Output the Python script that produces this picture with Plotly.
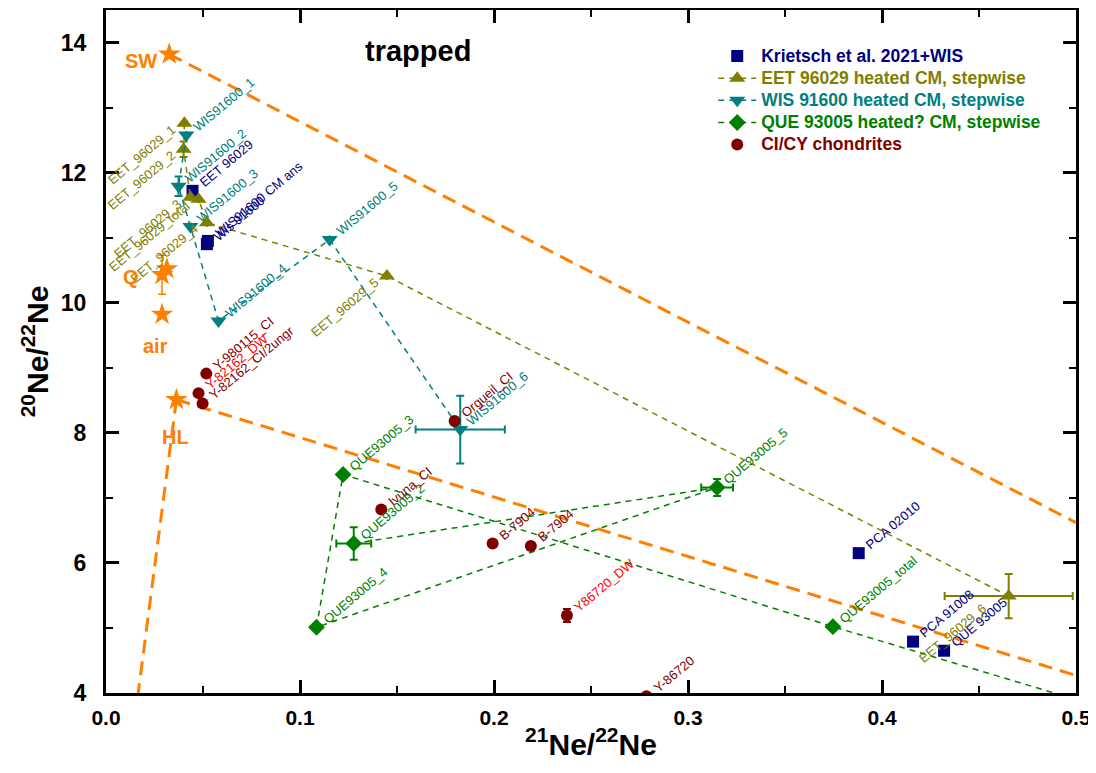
import plotly.graph_objects as go

# ---------------- data ----------------
# reference components (orange stars)
star_names = ["SW", "Q", "Q2", "air", "HL"]
star_x = [0.0326, 0.0289, 0.0314, 0.0289, 0.0363]
star_y = [13.82, 10.43, 10.52, 9.82, 8.51]
star_err_y = [0, 0.3, 0, 0, 0]

# orange mixing lines (end points)
sw_line_x = [0.0326, 0.5]
sw_line_y = [13.82, 6.62]
hl_line_x = [0.0363, 0.5]
hl_line_y = [8.51, 4.27]
hl_line2_x = [0.0363, 0.0166]
hl_line2_y = [8.51, 4.0]

# Krietsch et al. 2021 + WIS
kr_x = [0.0446, 0.052, 0.0525, 0.388, 0.416, 0.432]
kr_y = [11.72, 10.90, 10.95, 6.15, 4.79, 4.65]
kr_lab = ["EET 96029", "Wis 91600", "WIS91600 CM ans", "PCA 02010", "PCA 91008", "QUE 93005"]

# EET 96029 heated CM, stepwise
eet_x = [0.0404, 0.0400, 0.0435, 0.0477, 0.052, 0.1448, 0.4653]
eet_y = [12.76, 12.36, 11.62, 11.59, 11.23, 10.41, 5.49]
eet_ex = [0, 0, 0, 0, 0, 0, 0.033]
eet_ey = [0, 0.12, 0, 0, 0, 0, 0.34]
eet_lab = ["EET_96029_1", "EET_96029_2", "EET_96029_3", "EET_96029_total",
           "EET_96029_4", "EET_96029_5", "EET_96029_6"]

# WIS 91600 heated CM, stepwise
wis_x = [0.0414, 0.0374, 0.0435, 0.058, 0.1153, 0.1826]
wis_y = [12.58, 11.79, 11.17, 9.72, 10.97, 8.05]
wis_ex = [0, 0, 0, 0, 0, 0.023]
wis_ey = [0, 0.15, 0, 0, 0, 0.52]
wis_lab = ["WIS91600_1", "WIS91600_2", "WIS91600_3", "WIS91600_4", "WIS91600_5", "WIS91600_6"]

# QUE 93005 heated? CM, stepwise
que_x = [0.1277, 0.315, 0.1085, 0.1222, 0.3747, 0.52]
que_y = [6.30, 7.16, 5.01, 7.36, 5.02, 3.72]
que_ex = [0.009, 0.0082, 0, 0, 0, 0]
que_ey = [0.25, 0.13, 0, 0, 0, 0]
que_lab = ["QUE93005_2", "QUE93005_5", "QUE93005_4", "QUE93005_3", "QUE93005_total", ""]

# CI/CY chondrites
ci_x = [0.0517, 0.0477, 0.0498, 0.1797, 0.1419, 0.1993, 0.219, 0.2376, 0.2786]
ci_y = [8.91, 8.61, 8.45, 8.18, 6.82, 6.30, 6.26, 5.19, 3.95]
ci_ey = [0, 0, 0, 0.05, 0, 0, 0, 0.1, 0]
ci_lab = ["Y-980115_CI", "Y-82162_DW", "Y-82162_CI/2ungr", "Orgueil_CI", "Ivuna_CI",
          "B-7904", "B-7904", "Y86720_DW", "Y-86720"]
ci_labcol = ["#800000", "#FF0000", "#800000", "#800000", "#800000",
             "#800000", "#800000", "#FF0000", "#800000"]

X_RANGE = [0, 0.5]
Y_RANGE = [4, 14.5]

# ---------------- style ----------------
ORANGE = "#FF8000"
NAVY = "#000080"
OLIVE = "#808000"
TEAL = "#008080"
GREEN = "#008000"
WINE = "#800000"
FONT = "Arial, Liberation Sans, sans-serif"

fig = go.Figure()

# orange mixing lines
for lx, ly in [(sw_line_x, sw_line_y), (hl_line_x, hl_line_y), (hl_line2_x, hl_line2_y)]:
    fig.add_trace(go.Scatter(x=lx, y=ly, mode="lines", showlegend=False, hoverinfo="skip",
                             line=dict(color=ORANGE, width=3, dash="14px,8px")))

# orange stars
fig.add_trace(go.Scatter(x=star_x, y=star_y, mode="markers", showlegend=False,
                         marker=dict(symbol="star", size=17, color=ORANGE, line=dict(width=0)),
                         error_y=dict(type="data", array=star_err_y, color=ORANGE,
                                      thickness=1.5, width=4)))


def legname(txt, col):
    return "<span style='color:%s;font-size:17.5px'>%s</span>" % (col, txt)


DASH = "6px,5px"

# Krietsch
fig.add_trace(go.Scatter(x=kr_x, y=kr_y, mode="markers", name=legname("Krietsch et al. 2021+WIS", NAVY),
                         marker=dict(symbol="square", size=12, color=NAVY, line=dict(width=0))))

# EET
fig.add_trace(go.Scatter(x=eet_x, y=eet_y, mode="lines+markers",
                         name=legname("EET 96029 heated CM, stepwise", OLIVE),
                         line=dict(color=OLIVE, width=1.5, dash=DASH),
                         marker=dict(symbol="triangle-up", size=14, color=OLIVE, line=dict(width=0)),
                         error_x=dict(type="data", array=eet_ex, color=OLIVE, thickness=2, width=4),
                         error_y=dict(type="data", array=eet_ey, color=OLIVE, thickness=2, width=4)))

# WIS
fig.add_trace(go.Scatter(x=wis_x, y=wis_y, mode="lines+markers",
                         name=legname("WIS 91600 heated CM, stepwise", TEAL),
                         line=dict(color=TEAL, width=1.5, dash=DASH),
                         marker=dict(symbol="triangle-down", size=14, color=TEAL, line=dict(width=0)),
                         error_x=dict(type="data", array=wis_ex, color=TEAL, thickness=2, width=4),
                         error_y=dict(type="data", array=wis_ey, color=TEAL, thickness=2, width=4)))

# QUE
fig.add_trace(go.Scatter(x=que_x, y=que_y, mode="lines+markers",
                         name=legname("QUE 93005 heated? CM, stepwise", GREEN),
                         line=dict(color=GREEN, width=1.5, dash=DASH),
                         marker=dict(symbol="diamond", size=13, color=GREEN, line=dict(width=0)),
                         error_x=dict(type="data", array=que_ex, color=GREEN, thickness=2, width=4),
                         error_y=dict(type="data", array=que_ey, color=GREEN, thickness=2, width=4)))

# CI/CY
fig.add_trace(go.Scatter(x=ci_x, y=ci_y, mode="markers", name=legname("CI/CY chondrites", WINE),
                         marker=dict(symbol="circle", size=12, color=WINE, line=dict(width=0)),
                         error_y=dict(type="data", array=ci_ey, color=WINE, thickness=2, width=4)))

# ---------------- labels ----------------
ANG = -40
anns = []


def lab(x, y, text, color, side="r", xs=0, ys=0):
    if not text:
        return
    if x > X_RANGE[1] or x < X_RANGE[0]:
        return
    # annotations outside the axis range are hidden: pin to the edge and shift
    if y < Y_RANGE[0]:
        ys += (y - Y_RANGE[0]) * 65.0
        y = Y_RANGE[0]
    if side == "r":
        anns.append(dict(x=x, y=y, text=text, showarrow=False, textangle=ANG,
                         xanchor="left", yanchor="bottom", xshift=1 + xs, yshift=-2 + ys,
                         font=dict(family=FONT, size=13, color=color)))
    else:
        anns.append(dict(x=x, y=y, text=text, showarrow=False, textangle=ANG,
                         xanchor="right", yanchor="top", xshift=-3 + xs, yshift=4 + ys,
                         font=dict(family=FONT, size=13, color=color)))


for x, y, t in zip(kr_x, kr_y, kr_lab):
    lab(x, y, t, NAVY)
for i, (x, y, t) in enumerate(zip(eet_x, eet_y, eet_lab)):
    lab(x, y, t, OLIVE, "l", xs=(-14 if i == 6 else 0), ys=(-6 if i == 6 else 0))
for i, (x, y, t) in enumerate(zip(wis_x, wis_y, wis_lab)):
    lab(x, y, t, TEAL)
for x, y, t in zip(que_x, que_y, que_lab):
    lab(x, y, t, GREEN)
for x, y, t, c in zip(ci_x, ci_y, ci_lab, ci_labcol):
    lab(x, y, t, c)

# reference component names
ref_names = ["SW", "Q", "air", "HL"]
ref_nx = [0.0182, 0.0130, 0.0254, 0.0357]
ref_ny = [13.71, 10.39, 9.33, 7.94]
for t, x, y in zip(ref_names, ref_nx, ref_ny):
    anns.append(dict(x=x, y=y, text=t, showarrow=False, xanchor="center", yanchor="middle",
                     font=dict(family=FONT, size=20, color=ORANGE, weight="bold")))

anns.append(dict(x=0.161, y=13.87, text="trapped", showarrow=False, xanchor="center", yanchor="middle",
                 font=dict(family=FONT, size=29, color="black", weight="bold")))

# the page body adds an 8px offset, so the figure is 8px smaller on each side
fig.update_layout(
    width=1088, height=765,
    margin=dict(l=98, r=20, t=2, b=80, autoexpand=False),
    plot_bgcolor="white", paper_bgcolor="white",
    annotations=anns,
    showlegend=True,
    legend=dict(x=0.626, y=0.956, xanchor="left", yanchor="top", bgcolor="rgba(0,0,0,0)",
                font=dict(family=FONT, size=14.7, weight="bold"), tracegroupgap=0, itemwidth=38),
)

axis_common = dict(showline=True, linewidth=3, linecolor="black", mirror="ticks",
                   ticks="inside", ticklen=13, tickwidth=3, tickcolor="black",
                   showgrid=False, zeroline=False, automargin=False)

fig.update_xaxes(range=X_RANGE, dtick=0.1, tick0=0, tickformat=".1f",
                 tickfont=dict(family=FONT, size=21, color="black", weight="bold"),
                 ticklabelstandoff=4,
                 minor=dict(dtick=0.05, ticks="inside", ticklen=7, tickwidth=2, tickcolor="black"),
                 title=dict(text="<sup>21</sup>Ne/<sup>22</sup>Ne", standoff=6,
                            font=dict(family=FONT, size=30, color="black", weight="bold")),
                 **axis_common)
fig.update_yaxes(range=Y_RANGE, dtick=2, tick0=4,
                 tickfont=dict(family=FONT, size=23, color="black", weight="bold"),
                 ticklabelstandoff=12,
                 minor=dict(dtick=1, ticks="inside", ticklen=7, tickwidth=2, tickcolor="black"),
                 title=dict(text="<sup>20</sup>Ne/<sup>22</sup>Ne", standoff=4,
                            font=dict(family=FONT, size=30, color="black", weight="bold")),
                 **axis_common)

fig.write_html("out.html")
